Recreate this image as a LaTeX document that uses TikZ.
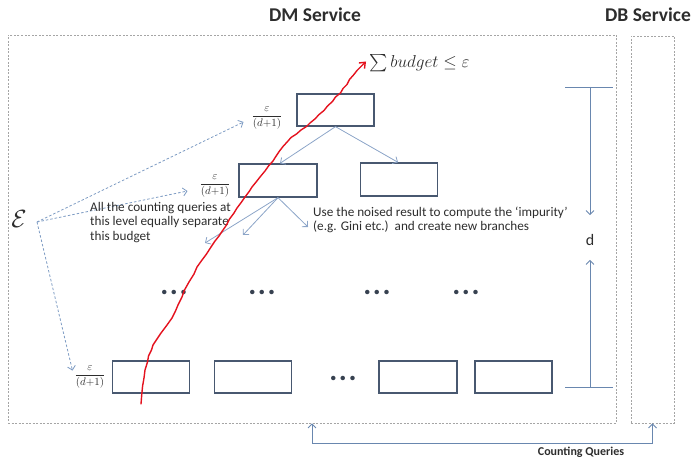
\documentclass[tikz,border=0pt]{standalone}
\usepackage{exscale}
\usepackage{fontspec}
\setmainfont{Carlito}
\usetikzlibrary{arrows.meta,calc}
\definecolor{boxc}{RGB}{72,88,112}
\definecolor{arrc}{RGB}{140,165,200}
\definecolor{dashc}{RGB}{165,165,165}
\definecolor{epsc}{RGB}{125,155,195}
\definecolor{redc}{RGB}{228,18,30}
\definecolor{dimc}{RGB}{105,135,175}
\definecolor{txtc}{RGB}{45,45,45}
\definecolor{dotc}{RGB}{55,65,80}
\begin{document}
\begin{tikzpicture}[x=1pt,y=-1pt,
  svcbox/.style={draw=dashc, line width=0.7pt, dash pattern=on 2pt off 1.5pt, inner sep=0pt},
  treebox/.style={draw=boxc, line width=1.3pt, minimum width=77pt, minimum height=32pt, inner sep=0pt},
  treearrow/.style={draw=arrc, line width=0.8pt, -{Straight Barb[length=4pt,width=8pt]}},
  epsarrow/.style={draw=epsc, line width=0.8pt, dash pattern=on 2.5pt off 2pt, -{Straight Barb[length=4pt,width=8pt]}},
  dimline/.style={draw=dimc, line width=0.9pt},
  dimarrow/.style={draw=dimc, line width=0.9pt, -{Straight Barb[length=4pt,width=8pt]}},
  cqarrow/.style={draw=dimc, line width=0.9pt, {Straight Barb[length=4pt,width=8pt]}-{Straight Barb[length=4pt,width=8pt]}},
  redpath/.style={draw=redc, line width=1.4pt, line join=round, line cap=round, -{Straight Barb[length=5pt,width=8pt]}},
  title/.style={font=\fontsize{19.5}{22}\selectfont\bfseries, text=txtc, inner sep=0pt},
  note/.style={text=txtc, align=left, inner sep=0pt},
  frac/.style={font=\fontsize{11}{13}\selectfont, text=txtc, inner sep=0pt},
  dots/.style={font=\fontsize{30}{32}\selectfont\bfseries, text=dotc, inner sep=0pt}
]
\useasboundingbox (0,0) rectangle (692,462);

% service boxes
\node[svcbox, minimum width=608pt, minimum height=388pt] (dm) at (312,229) {};
\node[svcbox, minimum width=43pt, minimum height=387pt] (db) at (652.5,229.5) {};
\node[title] (dmt) at (315,15) {DM Service};
\node[title] (dbt) at (648,15) {DB Service};

% tree boxes
\node[treebox] (t) at (335.5,110) {};
\node[treebox, minimum width=78pt, minimum height=33pt] (l2) at (278,180.5) {};
\node[treebox, minimum height=33pt] (r2) at (399,179.5) {};
\node[treebox] (b1) at (151,377) {};
\node[treebox] (b2) at (253,377) {};
\node[treebox, minimum width=78pt] (b3) at (418,377) {};
\node[treebox] (b4) at (513.5,377) {};

% tree arrows
\draw[treearrow] (t.south) -- ($(l2.north)+(2,0)$);
\draw[treearrow] (t.south) -- ($(r2.north)+(-1,0)$);
\coordinate (c1) at (205,243);
\coordinate (c2) at (243,235);
\coordinate (c3) at (308,227);
\draw[treearrow] (l2.south) -- (c1);
\draw[treearrow] (l2.south) -- (c2);
\draw[treearrow] (l2.south) -- (c3);

% ellipses
\node[dots] (d1) at (174,292) {.\kern1.5pt.\kern1.5pt.};
\node[dots] (d2) at (262,292) {.\kern1.5pt.\kern1.5pt.};
\node[dots] (d3) at (377,292) {.\kern1.5pt.\kern1.5pt.};
\node[dots] (d4) at (466,292) {.\kern1.5pt.\kern1.5pt.};
\node[dots] (d5) at (343,378) {.\kern1.5pt.\kern1.5pt.};

% fractions and epsilon
\node[frac] (f1) at (267,118) {$\displaystyle\frac{\varepsilon}{(d{+}1)}$};
\node[frac] (f2) at (215,186) {$\displaystyle\frac{\varepsilon}{(d{+}1)}$};
\node[frac] (f3) at (90,377) {$\displaystyle\frac{\varepsilon}{(d{+}1)}$};
\node[font=\fontsize{24}{26}\selectfont, text=txtc, inner sep=0pt] (eps) at (19,219) {$\mathcal{E}$};
\coordinate (es) at (37,222);
\draw[epsarrow] (es) -- ($(f1.west)+(-8,4)$);
\draw[epsarrow] (es) -- ($(f2.west)+(-12,5)$);
\draw[epsarrow] (es) -- ($(f3.north west)+(-2,5)$);

% notes
\node[note, anchor=north west, font=\fontsize{13.2}{14.5}\selectfont] (n1) at (90,202)
  {All the counting queries at\\this level equally separate\\this budget};
\node[note, anchor=north west, font=\fontsize{13.2}{14}\selectfont] (n2) at (313,207)
  {Use the noised result to compute the `impurity'\\(e.g. Gini etc.)\ \ and create new branches};

% sum label
\node[font=\fontsize{17.5}{20}\selectfont, text=txtc, inner sep=0pt, anchor=west] (sum) at (369,63)
  {$\sum budget \leq \varepsilon$};

% red path
\draw[redpath] plot coordinates {
 (141,404) (141.8,394) (142.6,386) (144,378) (145,370) (147.5,362) (148.5,356) (151.5,350)
 (153,345) (157,339) (161,333) (167,325) (172,318) (175.5,311) (178,305) (182,297) (184.5,290)
 (189,282) (194,274) (197,267) (202,260) (206.5,254) (211,247) (215,241) (219,236) (223,230)
 (226.5,225) (229.5,219) (234,213) (237,208) (241.5,202) (245,197) (249.5,191) (252,187)
 (256.5,181.5) (260,177) (265,171) (268.5,166) (273,161) (275.5,157) (279.5,151) (283,146.5)
 (288,141) (291,137.5) (296.5,134) (301,130) (306.5,126.5) (310,123) (315.5,118.5) (318.5,115)
 (324,110.5) (327.5,106) (332.5,101.5) (335.5,97) (340.5,93) (343,88.5) (347,84.5) (349.5,79.5)
 (353.5,75) (357,70.5) (361.5,66) (366,61.5)};

% dimension d
\coordinate (dtl) at (565,87);
\coordinate (dtr) at (613,87);
\coordinate (dtm) at (590,87);
\coordinate (dbl) at (565,387);
\coordinate (dbr) at (613,387);
\coordinate (dbm) at (590,387);
\draw[dimline] (dtl) -- (dtr);
\draw[dimline] (dbl) -- (dbr);
\node[font=\fontsize{16}{18}\selectfont, text=txtc, inner sep=0pt] (dlab) at (590,240) {d};
\draw[dimarrow] (dtm) -- ($(dlab.north)+(0,-19)$);
\draw[dimarrow] (dbm) -- ($(dlab.south)+(0,14)$);

% counting queries
\draw[cqarrow] (dm.south) -- ++(0,20) -| (db.south);
\node[font=\fontsize{12}{13}\selectfont\bfseries, text=txtc, inner sep=0pt] (cq) at (581,452) {Counting Queries};
\end{tikzpicture}
\end{document}
